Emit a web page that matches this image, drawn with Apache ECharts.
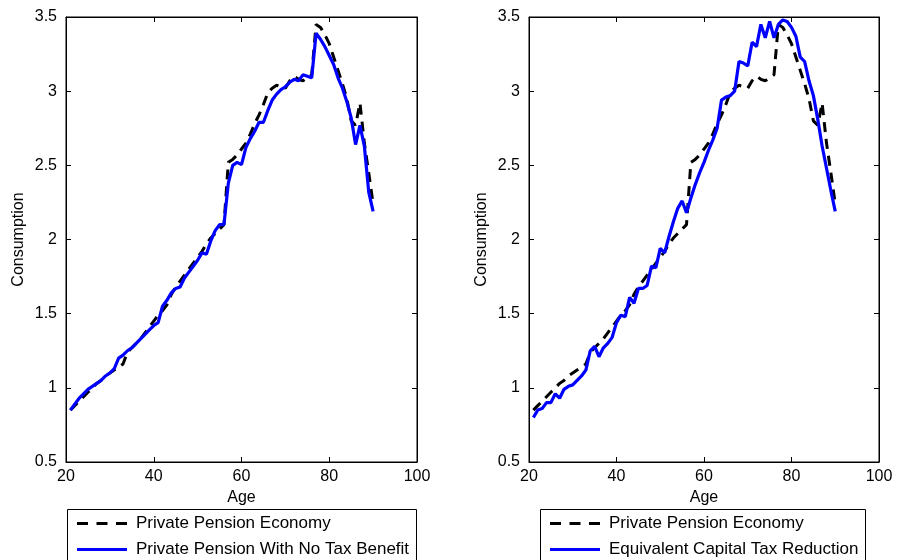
<!DOCTYPE html>
<html>
<head>
<meta charset="utf-8">
<script src="https://cdn.jsdelivr.net/npm/echarts@6/dist/echarts.min.js"></script>
<style>
  html, body { margin: 0; padding: 0; background: #fff; }
  #chart { width: 897px; height: 560px; }
</style>
</head>
<body>
<div id="chart"></div>
<script>
// Age of the household (years)
const ages = [21,22,23,24,25,26,27,28,29,30,31,32,33,34,35,36,37,38,39,40,
              41,42,43,44,45,46,47,48,49,50,51,52,53,54,55,56,57,58,59,60,
              61,62,63,64,65,66,67,68,69,70,71,72,73,74,75,76,77,78,79,80,
              81,82,83,84,85,86,87,88,89,90];

// Consumption profile, private pension economy (baseline)
const privatePension = [0.85,0.88,0.91,0.94,0.97,1.00,1.03,1.05,1.08,1.10,
                        1.12,1.14,1.16,1.24,1.27,1.30,1.33,1.37,1.41,1.45,
                        1.49,1.52,1.56,1.63,1.68,1.72,1.76,1.80,1.84,1.88,
                        1.92,1.97,2.01,2.04,2.07,2.10,2.52,2.54,2.57,2.61,
                        2.65,2.71,2.78,2.84,2.91,2.99,3.02,3.04,3.03,3.02,
                        3.07,3.10,3.08,3.07,3.09,3.11,3.45,3.43,3.38,3.32,
                        3.23,3.14,3.05,2.95,2.80,2.77,2.92,2.65,2.45,2.24];

// Consumption profile, private pension without the tax benefit
const noTaxBenefit = [0.85,0.89,0.93,0.96,0.99,1.01,1.03,1.05,1.08,1.10,
                      1.13,1.20,1.22,1.25,1.27,1.30,1.33,1.36,1.39,1.42,
                      1.44,1.55,1.59,1.64,1.67,1.68,1.74,1.78,1.82,1.86,
                      1.91,1.90,1.99,2.06,2.10,2.10,2.38,2.50,2.52,2.505,
                      2.62,2.68,2.73,2.79,2.79,2.87,2.94,2.98,3.01,3.03,
                      3.06,3.08,3.07,3.11,3.10,3.09,3.39,3.35,3.30,3.24,
                      3.18,3.09,3.02,2.93,2.82,2.64,2.77,2.63,2.32,2.19];

// Consumption profile, equivalent reduction of the capital tax
const capitalTaxCut = [0.80,0.85,0.86,0.90,0.90,0.96,0.93,0.99,1.01,1.02,
                       1.05,1.08,1.12,1.25,1.28,1.21,1.27,1.30,1.34,1.44,
                       1.49,1.48,1.61,1.57,1.67,1.67,1.69,1.82,1.81,1.94,
                       1.91,2.02,2.12,2.21,2.26,2.18,2.28,2.37,2.45,2.52,
                       2.60,2.67,2.75,2.94,2.96,2.97,3.00,3.20,3.19,3.17,
                       3.33,3.30,3.45,3.36,3.47,3.36,3.45,3.48,3.47,3.43,
                       3.37,3.23,3.20,3.07,2.97,2.81,2.63,2.48,2.33,2.19];

const NAME_BASE = 'Private Pension Economy';
const NAME_NOTAX = 'Private Pension With No Tax Benefit';
const NAME_CAPTAX = 'Equivalent Capital Tax Reduction';

const FONT = 'Liberation Sans';

// Legend glyphs: a dashed stroke and a solid stroke, 50 x 3
const ICON_DASHED = 'path://M0,0h11v3h-11z M19.5,0h11v3h-11z M39,0h11v3h-11z';
const ICON_SOLID = 'path://M0,0h50v3h-50z';

function pairs(ys) { return ages.map((a, i) => [a, ys[i]]); }

const tickStyle = { inside: true, length: 5, lineStyle: { color: '#000', width: 1 } };
const lineAxis = { show: true, onZero: false, lineStyle: { color: '#000', width: 1 } };
const labelStyle = { color: '#000', fontFamily: FONT, fontSize: 16 };

function xAxes(gi) {
  return [
    { gridIndex: gi, type: 'value', min: 20, max: 100, interval: 20, position: 'bottom',
      name: 'Age', nameLocation: 'middle', nameGap: 27,
      nameTextStyle: labelStyle,
      axisLine: lineAxis, axisTick: tickStyle, splitLine: { show: false },
      axisLabel: Object.assign({ margin: 7 }, labelStyle) },
    { gridIndex: gi, type: 'value', min: 20, max: 100, interval: 20, position: 'top',
      axisLine: lineAxis, axisTick: tickStyle, splitLine: { show: false },
      axisLabel: { show: false } }
  ];
}
function yAxes(gi) {
  return [
    { gridIndex: gi, type: 'value', min: 0.5, max: 3.5, interval: 0.5, position: 'left',
      name: 'Consumption', nameLocation: 'middle', nameGap: 39, nameRotate: 90,
      nameTextStyle: labelStyle,
      axisLine: lineAxis, axisTick: tickStyle, splitLine: { show: false },
      axisLabel: Object.assign({ margin: 9 }, labelStyle) },
    { gridIndex: gi, type: 'value', min: 0.5, max: 3.5, interval: 0.5, position: 'right',
      axisLine: lineAxis, axisTick: tickStyle, splitLine: { show: false },
      axisLabel: { show: false } }
  ];
}

const dashed = { color: '#000', width: 3, type: [10, 7], cap: 'butt' };
const solid = { color: '#0000ff', width: 3.2, type: 'solid' };

function lineSeries(name, ys, axisIdx, style) {
  return {
    type: 'line', name: name, data: pairs(ys),
    xAxisIndex: axisIdx, yAxisIndex: axisIdx,
    symbol: 'none', showSymbol: false, animation: false,
    lineStyle: style, itemStyle: { color: style.color }
  };
}

function legendAt(left, names) {
  return {
    data: [
      { name: names[0], icon: ICON_DASHED },
      { name: names[1], icon: ICON_SOLID }
    ],
    orient: 'vertical', left: left, top: 515, height: 80, padding: 0,
    itemWidth: 50, itemHeight: 14, itemGap: 9, symbolKeepAspect: true,
    selectedMode: false,
    textStyle: { color: '#000', fontFamily: FONT, fontSize: 17, padding: [0, 0, 0, 4] }
  };
}

const option = {
  animation: false,
  grid: [
    { left: 66, top: 17, width: 351, height: 445, show: true, borderColor: '#000', borderWidth: 1 },
    { left: 529, top: 17, width: 350, height: 445, show: true, borderColor: '#000', borderWidth: 1 }
  ],
  xAxis: [...xAxes(0), ...xAxes(1)],
  yAxis: [...yAxes(0), ...yAxes(1)],
  legend: [
    legendAt(77, [NAME_BASE, NAME_NOTAX]),
    legendAt(550, [NAME_BASE, NAME_CAPTAX])
  ],
  graphic: [
    { type: 'rect', shape: { x: 67.5, y: 509.5, width: 349, height: 60 },
      style: { fill: 'none', stroke: '#000', lineWidth: 1 } },
    { type: 'rect', shape: { x: 540.5, y: 509.5, width: 325, height: 60 },
      style: { fill: 'none', stroke: '#000', lineWidth: 1 } }
  ],
  series: [
    lineSeries(NAME_BASE, privatePension, 0, dashed),
    lineSeries(NAME_NOTAX, noTaxBenefit, 0, solid),
    lineSeries(NAME_BASE, privatePension, 2, dashed),
    lineSeries(NAME_CAPTAX, capitalTaxCut, 2, solid)
  ]
};

const chart = echarts.init(document.getElementById('chart'), null, { renderer: 'canvas' });
chart.setOption(option);
</script>
</body>
</html>
